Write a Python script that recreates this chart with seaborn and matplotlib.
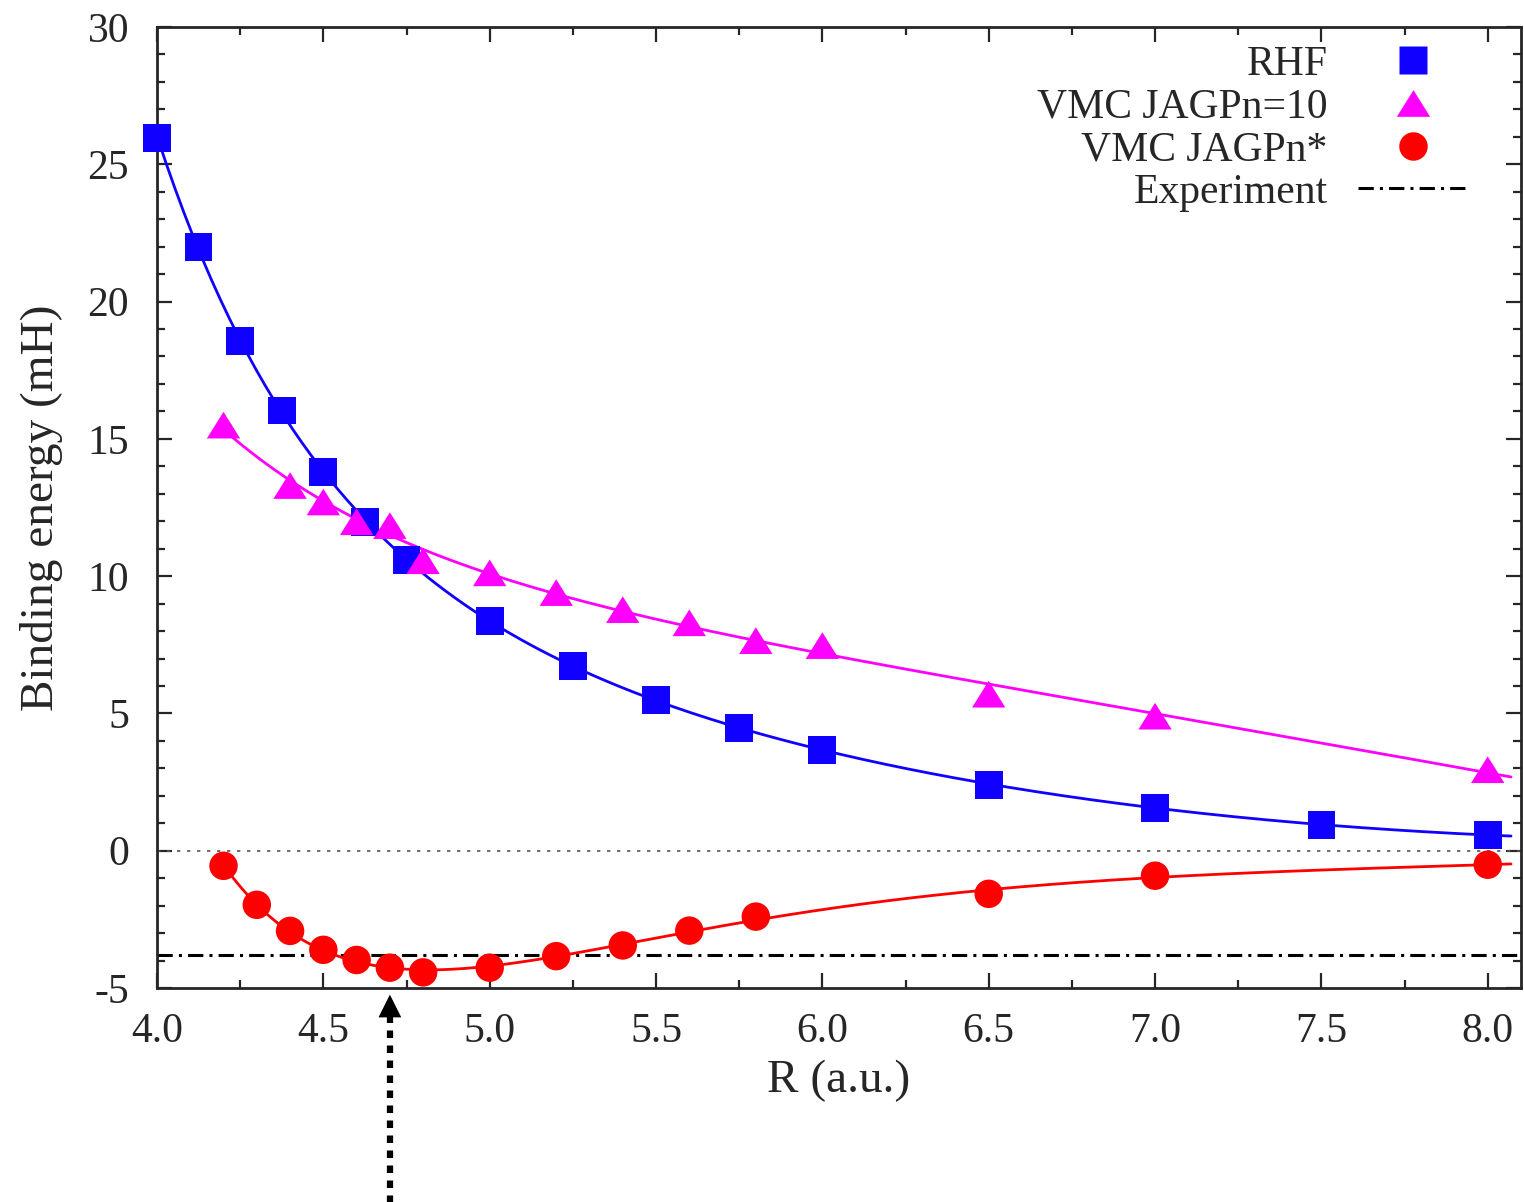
import numpy as np
import matplotlib
matplotlib.use("Agg")
import matplotlib.pyplot as plt
import seaborn as sns
from matplotlib.lines import Line2D
from matplotlib.ticker import MultipleLocator, FormatStrFormatter

# Data (R in a.u., binding energy in mH)
r_rhf = [4.0, 4.125, 4.25, 4.375, 4.5, 4.625, 4.75, 5.0, 5.25, 5.5, 5.75, 6.0, 6.5, 7.0, 7.5, 8.0]
e_rhf = [25.96, 22.0, 18.57, 16.03, 13.78, 11.98, 10.58, 8.38, 6.74, 5.50, 4.48, 3.68, 2.40, 1.55, 0.95, 0.58]

r_n10 = [4.2, 4.4, 4.5, 4.6, 4.7, 4.8, 5.0, 5.2, 5.4, 5.6, 5.8, 6.0, 6.5, 7.0, 8.0]
e_n10 = [15.5, 13.3, 12.7, 11.98, 11.84, 10.56, 10.12, 9.4, 8.78, 8.3, 7.65, 7.47, 5.7, 4.9, 2.95]

r_star = [4.2, 4.3, 4.4, 4.5, 4.6, 4.7, 4.8, 5.0, 5.2, 5.4, 5.6, 5.8, 6.5, 7.0, 8.0]
e_star = [-0.55, -1.97, -2.92, -3.61, -3.98, -4.26, -4.43, -4.26, -3.84, -3.45, -2.91, -2.40, -1.57, -0.91, -0.51]

e_exp = -3.8
r_arrow = 4.7
labels = ["RHF", "VMC JAGPn=10", "VMC JAGPn*", "Experiment"]

sns.set_style("ticks")
plt.rcParams["font.family"] = ["Liberation Serif", "DejaVu Serif"]
plt.rcParams["axes.unicode_minus"] = False

fig = plt.figure(figsize=(15.24, 12.02), dpi=100)
ax = fig.add_axes([157 / 1524, 1 - 988 / 1202, (1521 - 157) / 1524, (988 - 27) / 1202])

# gnuplot-like triangle: wider than tall
tri = [(-1, -0.8), (1, -0.8), (0, 0.8), (-1, -0.8)]


# smooth fit in 1/R, as a guide to the eye
def fit_curve(r, e, deg, r_end=8.07):
    r = np.asarray(r)
    coef = np.polyfit(1.0 / r, e, deg)
    grid = np.linspace(r.min(), r_end, 300)
    return grid, np.polyval(coef, 1.0 / grid)


series = [
    (r_rhf, e_rhf, "#1000ff", "s", 20, 4),
    (r_n10, e_n10, "#ff00ff", tri, 24, 3),
    (r_star, e_star, "#ff0000", "o", 20.5, 4),
]

for r, e, col, mk, ms, deg in series:
    gx, gy = fit_curve(r, e, deg)
    sns.lineplot(x=gx, y=gy, color=col, lw=2, estimator=None, sort=False, ax=ax, zorder=2)
    sns.scatterplot(x=r, y=e, marker=mk, s=ms ** 2, color=col, edgecolor="none",
                    linewidth=0, ax=ax, zorder=3, clip_on=False)

ax.axhline(0, color="#555555", lw=1.2, ls=(0, (2, 4)), zorder=1)
ax.axhline(e_exp, color="black", lw=2.2, ls=(0, (5, 2, 1, 2)), zorder=1)

ax.set_xlim(4.0, 8.1)
ax.set_ylim(-5, 30)
ax.xaxis.set_major_locator(MultipleLocator(0.5))
ax.xaxis.set_minor_locator(MultipleLocator(0.25))
ax.yaxis.set_major_locator(MultipleLocator(5))
ax.yaxis.set_minor_locator(MultipleLocator(1))
ax.xaxis.set_major_formatter(FormatStrFormatter("%.1f"))
ax.tick_params(which="both", direction="in", top=True, right=True, width=1.6, labelsize=30)
ax.tick_params(which="major", length=11)
ax.tick_params(which="minor", length=6)
ax.tick_params(axis="x", pad=18)
ax.tick_params(axis="y", pad=20)
for sp in ax.spines.values():
    sp.set_linewidth(2)
    sp.set_visible(True)

ax.set_xlabel("R (a.u.)", fontsize=34, labelpad=6)
ax.set_ylabel("Binding energy (mH)", fontsize=34, labelpad=18)

# arrow marking the minimum
ax.plot([r_arrow, r_arrow], [-12.9, -6.0], color="black", lw=4.5, ls=(0, (1.2, 1.2)),
        solid_capstyle="butt", dash_capstyle="butt", clip_on=False)
ax.annotate("", xy=(r_arrow, -5.24), xytext=(r_arrow, -6.1), annotation_clip=False,
            arrowprops=dict(arrowstyle="-|>", mutation_scale=41, color="black", lw=0,
                            shrinkA=0, shrinkB=0))

handles = [
    Line2D([], [], ls="none", marker="s", ms=20, color="#1000ff", mec="none"),
    Line2D([], [], ls="none", marker=tri, ms=24, color="#ff00ff", mec="none"),
    Line2D([], [], ls="none", marker="o", ms=20.5, color="#ff0000", mec="none"),
    Line2D([], [], color="black", lw=2.2, ls=(0, (5, 2, 1, 2))),
]
ax.legend(handles, labels, loc="upper right", bbox_to_anchor=(0.961, 0.981), frameon=False,
          markerfirst=False, fontsize=30, handlelength=2.64, handletextpad=0.72,
          labelspacing=0.1, borderpad=0, borderaxespad=0)

fig.savefig("out.png", dpi=100)
